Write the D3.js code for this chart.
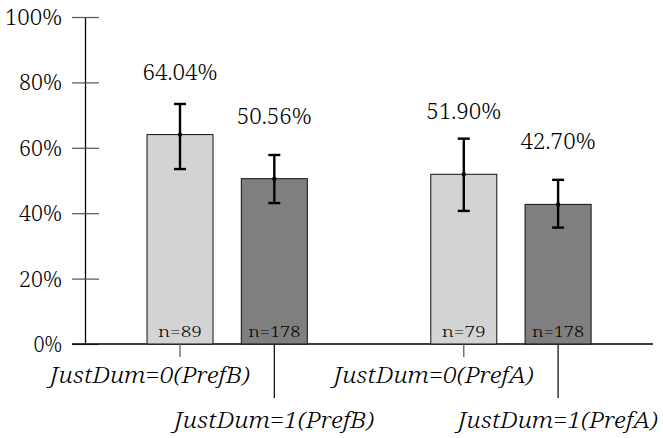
<!DOCTYPE html>
<html><head><meta charset="utf-8">
<script src="https://cdn.jsdelivr.net/npm/d3@7"></script>
<style>body{margin:0;background:#fff;} svg{display:block;} text{font-family:"Noto Serif","DejaVu Serif",serif;font-weight:300;}</style>
</head><body>
<svg id="c" width="663" height="438"></svg>
<script>
const groups = ["PrefB", "PrefA"];
const justDum = ["0", "1"];
const means = [0.6404, 0.5056, 0.5190, 0.4270];
const lower = [0.535, 0.431, 0.407, 0.356];
const upper = [0.734, 0.578, 0.628, 0.502];
const ns = [89, 178, 79, 178];
const valueLabels = ["64.04%", "50.56%", "51.90%", "42.70%"];
const catLabels = ["JustDum=0(PrefB)", "JustDum=1(PrefB)", "JustDum=0(PrefA)", "JustDum=1(PrefA)"];
const yTicks = [0, 0.2, 0.4, 0.6, 0.8, 1.0];
const yTickLabels = ["0%", "20%", "40%", "60%", "80%", "100%"];
const fills = {"0": "#d3d3d3", "1": "#7f7f7f"};

const svg = d3.select("#c");
const y = d3.scaleLinear().domain([0, 1]).range([344, 17]);
const xg = d3.scaleBand().domain(groups).range([147, 591.1]).paddingInner(0.435).paddingOuter(0);
const xi = d3.scaleBand().domain(justDum).range([0, xg.bandwidth()]).paddingInner(0.3).paddingOuter(0);

const rows = [];
groups.forEach((g, gi) => justDum.forEach((j, ji) => {
  const k = gi * 2 + ji;
  rows.push({g, j, k, m: means[k], lo: lower[k], hi: upper[k], n: ns[k], vl: valueLabels[k], cl: catLabels[k],
    x: xg(g) + xi(j), cx: xg(g) + xi(j) + xi.bandwidth() / 2});
}));

// y axis
const yAxis = d3.axisLeft(y).tickValues(yTicks).tickFormat((d, i) => yTickLabels[i]).tickSize(0);
const ya = svg.append("g").attr("transform", "translate(85,0)").call(yAxis);
ya.attr("font-family", null).attr("font-size", null);
ya.select(".domain").attr("stroke", "#000").attr("stroke-width", 1.3);
ya.selectAll(".tick text").remove();
ya.selectAll(".tick").append("line").attr("x1", -13).attr("x2", 14).attr("stroke", "#555").attr("stroke-width", 1.2);
ya.selectAll(".tick").append("text").attr("x", -23).attr("dy", 7.5).attr("text-anchor", "end")
  .style("font-size", "21px").attr("fill", "#000")
  .attr("textLength", (d, i) => yTickLabels[i].length * 14.3).attr("lengthAdjust", "spacingAndGlyphs")
  .text((d, i) => yTickLabels[i]);

// x axis baseline
svg.append("line").attr("x1", 72).attr("x2", 653).attr("y1", y(0)).attr("y2", y(0)).attr("stroke", "#000").attr("stroke-width", 1.3);

// bars
svg.selectAll("rect.bar").data(rows).join("rect").attr("class", "bar")
  .attr("x", d => d.x).attr("width", xi.bandwidth())
  .attr("y", d => y(d.m)).attr("height", d => y(0) - y(d.m))
  .attr("fill", d => fills[d.j]).attr("stroke", "#111").attr("stroke-width", 1);

// error bars
const eb = svg.selectAll("g.err").data(rows).join("g").attr("class", "err");
eb.append("line").attr("x1", d => d.cx).attr("x2", d => d.cx).attr("y1", d => y(d.lo)).attr("y2", d => y(d.hi)).attr("stroke", "#000").attr("stroke-width", 2.4);
eb.append("line").attr("x1", d => d.cx - 6).attr("x2", d => d.cx + 6).attr("y1", d => y(d.hi)).attr("y2", d => y(d.hi)).attr("stroke", "#000").attr("stroke-width", 2.4);
eb.append("line").attr("x1", d => d.cx - 6).attr("x2", d => d.cx + 6).attr("y1", d => y(d.lo)).attr("y2", d => y(d.lo)).attr("stroke", "#000").attr("stroke-width", 2.4);
eb.append("circle").attr("cx", d => d.cx).attr("cy", d => y(d.m)).attr("r", 2.2).attr("fill", "#000");

// value labels
svg.selectAll("text.val").data(rows).join("text").attr("class", "val")
  .attr("x", d => d.cx).attr("y", d => y(d.m) - 55).attr("text-anchor", "middle")
  .style("font-size", "21px").attr("textLength", 75).attr("lengthAdjust", "spacingAndGlyphs")
  .text(d => d.vl);

// n labels
svg.selectAll("text.n").data(rows).join("text").attr("class", "n")
  .attr("x", d => d.cx).attr("y", y(0) - 7).attr("text-anchor", "middle")
  .style("font-size", "14px")
  .attr("textLength", d => String(d.n).length > 2 ? 52 : 44).attr("lengthAdjust", "spacingAndGlyphs")
  .text(d => "n=" + d.n);

// category ticks + labels
svg.selectAll("line.ct").data(rows).join("line").attr("class", "ct")
  .attr("x1", d => d.cx).attr("x2", d => d.cx).attr("y1", y(0)).attr("y2", d => d.j === "0" ? y(0) + 13 : y(0) + 54)
  .attr("stroke", d => d.j === "0" ? "#555" : "#000").attr("stroke-width", 1.2);
svg.selectAll("text.cl").data(rows).join("text").attr("class", "cl")
  .attr("x", d => d.j === "0" ? d.cx - 30 : d.cx).attr("y", d => d.j === "0" ? y(0) + 39 : y(0) + 84)
  .attr("text-anchor", "middle").style("font-style", "italic").style("font-size", "21px")
  .attr("textLength", 200).attr("lengthAdjust", "spacingAndGlyphs")
  .text(d => d.cl);
</script>
</body></html>
